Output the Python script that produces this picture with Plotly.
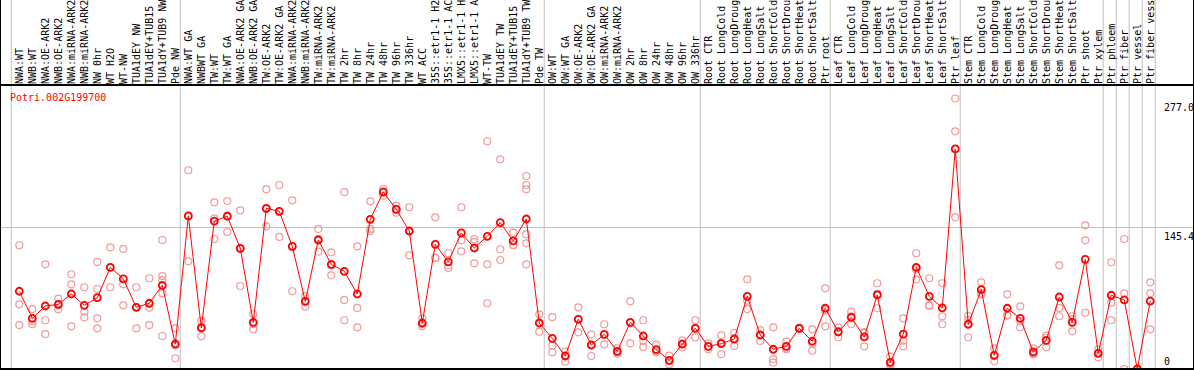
import plotly.graph_objects as go

title_text = "Potri.002G199700"

labels = [
    # NW
    "NWA:WT", "NWB:WT", "NWA:OE-ARK2", "NWB:OE-ARK2", "NWA:miRNA-ARK2", "NWB:miRNA-ARK2",
    "NW 0hr", "WT H2O", "WT-NW", "TUA1dEY NW", "TUA1dEY+TUB15", "TUA1dY+TUB9 NW", "Pde NW",
    # TW
    "NWA:WT GA", "NWBWT GA", "TW:WT", "TW:WT GA", "NWA:OE-ARK2 GA", "NWB:OE-ARK2 GA",
    "TW:OE-ARK2", "TW:OE-ARK2 GA", "NWA:miRNA-ARK2", "NWB:miRNA-ARK2", "TW:miRNA-ARK2",
    "TW:miRNA-ARK2", "TW 2hr", "TW 8hr", "TW 24hr", "TW 48hr", "TW 96hr", "TW 336hr",
    "WT ACC", "35S::etr1-1 H2", "35S::etr1-1 AC", "LMX5::etr1-1 H", "LMX5::etr1-1 A",
    "WT-TW", "TUA1dEY TW", "TUA1dEY+TUB15", "TUA1dY+TUB9 TW", "Pde TW",
    # OW
    "OW:WT", "OW:WT GA", "OW:OE-ARK2", "OW:OE-ARK2 GA", "OW:miRNA-ARK2", "OW:miRNA-ARK2",
    "OW 2hr", "OW 8hr", "OW 24hr", "OW 48hr", "OW 96hr", "OW 336hr",
    # Root
    "Root CTR", "Root LongCold", "Root LongDroug", "Root LongHeat", "Root LongSalt",
    "Root ShortCold", "Root ShortDrou", "Root ShortHeat", "Root ShortSalt", "Ptr root",
    # Leaf
    "Leaf CTR", "Leaf LongCold", "Leaf LongDroug", "Leaf LongHeat", "Leaf LongSalt",
    "Leaf ShortCold", "Leaf ShortDrou", "Leaf ShortHeat", "Leaf ShortSalt", "Ptr leaf",
    # Stem
    "Stem CTR", "Stem LongCold", "Stem LongDroug", "Stem LongHeat", "Stem LongSalt",
    "Stem ShortCold", "Stem ShortDrou", "Stem ShortHeat", "Stem ShortSalt", "Ptr shoot",
    "Ptr xylem",
    # single
    "Ptr phloem", "Ptr fiber", "Ptr vessel", "Ptr fiber vessel",
]

group_sizes = [13, 28, 12, 10, 10, 11, 1, 1, 1, 1]

means = [
    79.6, 51.9, 64.5, 66.2, 76.8, 65.2, 73.0, 104.1, 92.2, 63.2, 67.3, 85.7, 25.6,
    156.7, 42.0, 151.5, 156.4, 123.6, 47.8, 164.5, 161.5, 125.6, 69.3, 132.1, 107.2,
    100.0, 76.8, 153.3, 181.2, 163.5, 141.3, 47.1, 127.7, 109.6, 139.3, 123.9, 135.9,
    149.8, 131.1, 153.6, 47.1,
    31.4, 13.3, 50.9, 24.6, 35.5, 18.1, 47.8, 33.8, 19.8, 8.9, 25.6, 41.7,
    23.2, 25.9, 30.7, 74.4, 34.8, 20.2, 23.2, 41.7, 28.4, 62.2,
    37.9, 52.9, 32.8, 75.8, 6.8, 35.8, 104.1, 74.4, 62.5, 225.3,
    45.8, 81.2, 14.0, 62.2, 51.9, 17.4, 29.4, 73.7, 47.8, 112.3, 16.1,
    75.5, 70.7, 0.0, 69.6,
]

replicates = [
    [126.7, 66.2, 45.0], [61.4, 45.8, 49.0], [107.2, 49.9, 35.8], [72.0, 61.1, 65.0],
    [97.0, 86.7, 43.7], [83.7, 58.7, 52.9], [109.6, 81.9, 51.9, 41.7], [124.6, 104.0, 83.7],
    [122.9, 86.7, 65.2], [83.7, 63.5, 41.7], [92.9, 62.8, 45.0], [132.1, 95.2, 91.0, 77.5, 33.8],
    [41.7, 11.0, 24.0],
    [203.5, 156.5, 110.3], [49.2, 43.0, 33.5], [170.7, 154.3, 133.1], [172.0, 157.0, 140.3],
    [162.5, 123.0, 85.0], [56.3, 46.0, 40.6], [184.0, 164.0, 146.1], [188.4, 161.0, 135.2],
    [172.7, 125.0, 79.6], [74.7, 69.5, 63.8], [143.4, 133.0, 120.1], [119.5, 106.0, 95.9],
    [181.2, 70.7, 49.9], [125.6, 62.5, 42.7], [171.7, 143.4, 141.3], [184.3, 177.5, 182.0],
    [167.2, 160.0, 163.0], [165.6, 141.0, 116.4], [51.9, 46.0, 43.7], [155.3, 114.0, 113.7],
    [118.5, 103.4, 106.0], [165.6, 131.8, 120.5], [133.1, 130.0, 108.2], [233.2, 107.2, 67.3],
    [214.7, 122.6, 111.6], [139.6, 127.0, 126.7], [197.6, 188.4, 184.0, 137.9, 128.7, 107.2],
    [56.0, 47.0, 38.2],
    [53.2, 23.9, 17.1], [17.7, 13.0, 7.5], [63.2, 51.0, 37.6], [35.5, 24.0, 13.3],
    [45.8, 35.0, 25.3], [21.2, 17.0, 15.7], [69.3, 47.0, 26.3], [49.9, 29.0, 22.5],
    [24.9, 18.0, 17.1], [13.6, 8.0, 4.8], [29.0, 25.0, 22.2], [49.9, 42.0, 32.5],
    [26.3, 23.0, 20.2], [34.5, 27.0, 15.1], [36.9, 31.0, 23.6], [91.8, 70.0, 61.4],
    [39.9, 35.0, 28.7], [42.7, 10.2, 6.5], [28.0, 21.0, 20.2], [42.5, 41.0, 41.7],
    [40.6, 26.0, 18.7], [82.6, 60.0, 43.7],
    [42.3, 39.0, 32.5], [58.7, 54.0, 45.8], [37.9, 37.0, 23.2], [87.8, 77.0, 62.2],
    [12.6, 5.0, 3.1], [51.9, 29.0, 23.2], [118.5, 102.0, 91.8], [92.9, 65.5, 64.5],
    [87.8, 54.0, 45.8], [277.0, 243.4, 155.3],
    [54.3, 50.0, 32.5], [88.8, 78.0, 76.5], [21.2, 13.0, 8.2], [76.5, 55.3, 55.0],
    [64.2, 49.0, 42.7], [21.2, 16.0, 15.1], [34.1, 32.0, 22.2], [106.2, 62.5, 54.0],
    [54.0, 51.0, 38.6], [147.1, 131.8, 57.6], [20.2, 16.0, 12.0],
    [109.3, 67.9, 49.9], [133.1, 77.5, 0.0], [0.0, 0.0, 0.0], [88.8, 77.5, 40.6],
]

y_tick_values = [277.0, 145.4, 0]
y_tick_labels = ["277.0", "145.4", "0"]
y_max = 290.8

W, H = 1194, 370
M_TOP, M_BOT = 85, 1
X0, X1 = -1.485, 90.365

n = len(labels)
xs = list(range(n))

rep_x, rep_y = [], []
for i, reps in enumerate(replicates):
    for v in reps:
        rep_x.append(i)
        rep_y.append(v)

MONO = "DejaVu Sans Mono"

fig = go.Figure()
fig.add_trace(go.Scatter(
    x=rep_x, y=rep_y, mode="markers",
    marker=dict(symbol="circle-open", size=7, color="#f09a9a", line=dict(width=1.2, color="#f09a9a")),
    hoverinfo="skip", showlegend=False,
))
fig.add_trace(go.Scatter(
    x=xs, y=means, mode="lines+markers",
    line=dict(color="#ff0000", width=1),
    marker=dict(symbol="circle-open", size=7, color="#ff0000", line=dict(width=1.8, color="#ff0000")),
    showlegend=False,
))

def to_paper(xv):
    return (xv - X0) / (X1 - X0)

plot_h = H - M_TOP - M_BOT
top_paper = (plot_h + M_TOP) / plot_h

shapes = []
b = 0
bounds = [0]
for g in group_sizes:
    b += g
    bounds.append(b)
for bd in bounds:
    px = to_paper(bd - 0.62)
    shapes.append(dict(type="line", xref="paper", yref="paper", x0=px, x1=px, y0=0, y1=top_paper,
                       line=dict(color="#c0c0c0", width=1), layer="below"))
# frame
shapes.append(dict(type="rect", xref="paper", yref="paper", x0=0, x1=1, y0=0, y1=1,
                   line=dict(color="black", width=2), layer="above"))
shapes.append(dict(type="line", xref="paper", yref="paper", x0=0, x1=0, y0=0, y1=top_paper,
                   line=dict(color="black", width=2)))
shapes.append(dict(type="line", xref="paper", yref="paper", x0=1, x1=1, y0=0, y1=top_paper,
                   line=dict(color="black", width=2)))

annotations = [
    dict(text=title_text, xref="paper", yref="paper", x=8 / W, y=(H - M_BOT - 97) / plot_h,
         xanchor="left", yanchor="middle", showarrow=False,
         font=dict(family=MONO, size=10, color="#ff0000")),
]
lbl_x = 1162 / W
for v, t in zip(y_tick_values, y_tick_labels):
    annotations.append(dict(
        text=t, xref="paper", yref="y", x=lbl_x, y=v, xanchor="left",
        yanchor="bottom" if v == 0 else "top", showarrow=False,
        font=dict(family=MONO, size=10, color="black"),
        yshift=-2 if v != 0 else 0,
    ))

fig.update_layout(
    width=W, height=H,
    margin=dict(l=0, r=0, t=M_TOP, b=M_BOT, pad=0),
    paper_bgcolor="white", plot_bgcolor="white",
    shapes=shapes, annotations=annotations,
    xaxis=dict(range=[X0, X1], side="top", tickmode="array", tickvals=xs, ticktext=labels,
               tickangle=-90, tickfont=dict(family=MONO, size=10, color="black"),
               showgrid=False, zeroline=False, showline=False, ticks="", automargin=False,
               fixedrange=True),
    yaxis=dict(range=[0, y_max], tickmode="array", tickvals=[145.4], showticklabels=False,
               showgrid=True, gridcolor="#c0c0c0", gridwidth=1, zeroline=False,
               showline=False, ticks="", automargin=False, fixedrange=True),
)

fig.write_html(
    "out.html",
    config={"displayModeBar": False},
    post_script="document.body.style.margin='0px';document.body.style.overflow='hidden';",
)
